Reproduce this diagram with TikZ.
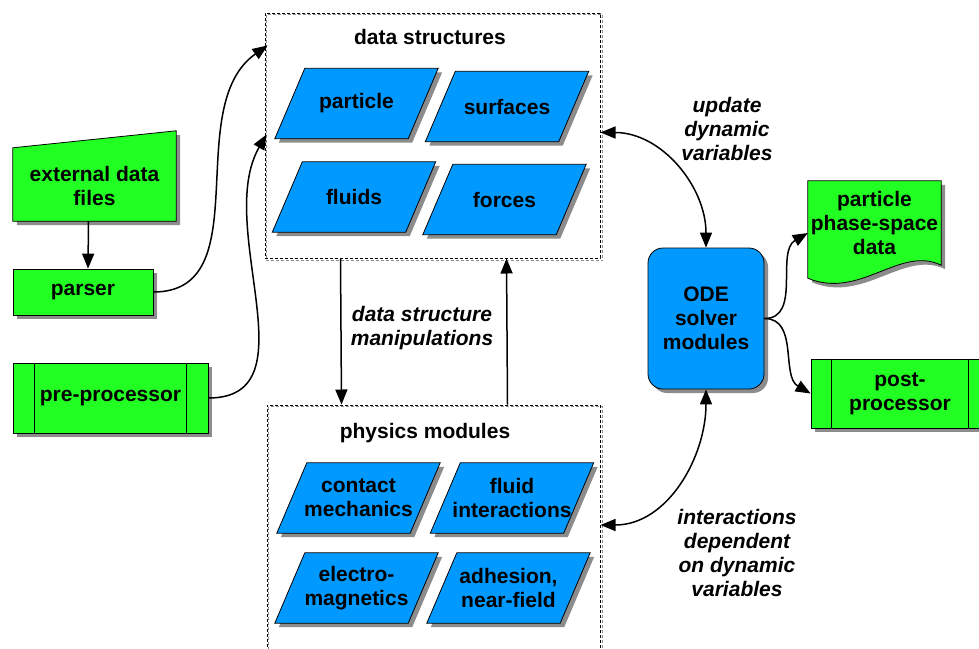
\documentclass[tikz,border=0pt]{standalone}
\usepackage{fontspec}
\setmainfont{Liberation Sans}
\usepackage{xcolor}
\usetikzlibrary{arrows.meta,shadows,backgrounds}
\definecolor{flowGreen}{HTML}{22FF22}
\definecolor{flowBlue}{HTML}{0099FF}
\definecolor{flowShadow}{HTML}{8C8C8C}

\begin{document}
\begin{tikzpicture}[x=1pt,y=-1pt,
    font=\fontsize{21}{24}\selectfont\bfseries,
    boxShadow/.style={drop shadow={shadow xshift=4pt,shadow yshift=-4pt,fill=flowShadow,opacity=1}},
    greenBox/.style={draw,line width=0.8pt,fill=flowGreen,boxShadow,inner sep=0pt,align=center},
    blueBox/.style={draw,line width=0.8pt,fill=flowBlue,boxShadow,inner sep=0pt,align=center},
    dataPara/.style={minimum width=133,minimum height=70,inner sep=0pt,align=center},
    groupBox/.style={draw,dash pattern=on 3pt off 2pt,line width=1pt,inner sep=0pt},
    flowArrow/.style={line width=1.5pt,-{Triangle[length=15pt,width=12pt]}},
    bothArrow/.style={line width=1.5pt,{Triangle[length=15pt,width=12pt]}-{Triangle[length=15pt,width=12pt]}},
    note/.style={font=\fontsize{21}{24}\selectfont\bfseries\itshape,align=center}]
  \path[use as bounding box,clip] (0,0) rectangle (979,648);

  % group boxes
  \node[groupBox,minimum width=335,minimum height=245] (data) at (432.5,135.5) {};
  \node[groupBox,minimum width=333,minimum height=260] (phys) at (433.5,535) {};
  \draw[dash pattern=on 3pt off 2pt,draw=flowShadow] ([shift={(2,2)}]data.north west) rectangle ([shift={(2,2)}]data.south east);
  \draw[dash pattern=on 3pt off 2pt,draw=flowShadow] ([shift={(2,2)}]phys.north west) rectangle ([shift={(2,2)}]phys.south east);
  \node (dataTitle) at (430,37) {data structures};
  \node (physTitle) at (425,433) {physics modules};

  % data structures
  \node[dataPara] (particle) at (356.5,103.5) {particle};
  \node[dataPara] (surfaces) at (507,106.5) {surfaces};
  \node[dataPara] (fluids) at (354,197) {fluids};
  \node[dataPara] (forces) at (504.5,199.5) {forces};

  % physics modules
  \node[dataPara] (contact) at (358.5,498) {contact\\mechanics};
  \node[dataPara] (fluidInt) at (512,498) {fluid\\interactions};
  \node[dataPara] (electro) at (356.5,588) {electro-\\magnetics};
  \node[dataPara] (adhesion) at (508.5,588) {adhesion,\\near-field};

  \begin{pgfonlayer}{background}
    \foreach \p in {particle,surfaces,fluids,forces,contact,fluidInt,electro,adhesion}
      \path[draw,line width=0.8pt,fill=flowBlue,boxShadow] ([xshift=-15]\p.south west) -- ([xshift=15]\p.north west)
        -- ([xshift=15]\p.north east) -- ([xshift=-15]\p.south east) -- cycle;
  \end{pgfonlayer}

  % inputs
  \node[minimum width=163,minimum height=70,inner sep=0pt,align=center] (ext) at (94.5,186) {external data\\files};
  \begin{pgfonlayer}{background}
    \path[draw,line width=0.8pt,fill=flowGreen,boxShadow] (ext.south west) -- ([yshift=3]ext.north west)
      -- ([yshift=20]ext.north east) -- (ext.south east) -- cycle;
  \end{pgfonlayer}
  \node[greenBox,minimum width=140,minimum height=46] (parser) at (83,292) {parser};
  \node[greenBox,minimum width=195,minimum height=70] (pre) at (110.5,398) {pre-processor};
  \draw[line width=0.8pt] ([xshift=22]pre.north west) -- ([xshift=22]pre.south west)
    ([xshift=-22]pre.north east) -- ([xshift=-22]pre.south east);

  % solver and outputs
  \node[blueBox,rounded corners=15pt,minimum width=116,minimum height=141] (ode) at (706,318.5) {ODE\\solver\\modules};
  \node[minimum width=133,minimum height=84,inner sep=0pt,align=center] (phase) at (874.5,223) {particle\\phase-space\\data};
  \begin{pgfonlayer}{background}
    \path[draw,line width=0.8pt,fill=flowGreen,boxShadow] (phase.north west) -- (phase.north east)
      -- (phase.south east) .. controls (900,245) and (860,300) .. ([yshift=-13]phase.south west) -- cycle;
  \end{pgfonlayer}
  \node[greenBox,minimum width=178,minimum height=69] (post) at (900,393.5) {post-\\processor};
  \draw[line width=0.8pt] ([xshift=21]post.north west) -- ([xshift=21]post.south west)
    ([xshift=-21]post.north east) -- ([xshift=-21]post.south east);

  % connectors
  \draw[flowArrow] ([xshift=-6]ext.south) -- ([xshift=5]parser.north);
  \draw[flowArrow] (parser.east) to[out=0,in=215] ([xshift=3,yshift=-33]data.north west);
  \draw[flowArrow] (pre.east) to[out=0,in=240] ([xshift=2,yshift=-122]data.north west);
  \draw[flowArrow] ([xshift=-92]data.south) -- ([xshift=-92]phys.north);
  \draw[flowArrow] ([xshift=74]phys.north) -- ([xshift=74]data.south);
  \draw[bothArrow] ([yshift=3]data.east) to[out=0,in=90] (ode.north);
  \draw[bothArrow] ([yshift=10]phys.east) to[out=0,in=-90] (ode.south);
  \draw[flowArrow] (ode.east) to[out=0,in=210] ([yshift=-10]phase.west);
  \draw[flowArrow] (ode.east) to[out=0,in=150] (post.west);

  % labels
  \node[note] (manip) at (422,328) {data structure\\manipulations};
  \node[note] (update) at (727,129) {update\\dynamic\\variables};
  \node[note] (inter) at (737,553) {interactions\\dependent\\on dynamic\\variables};
\end{tikzpicture}
\end{document}
